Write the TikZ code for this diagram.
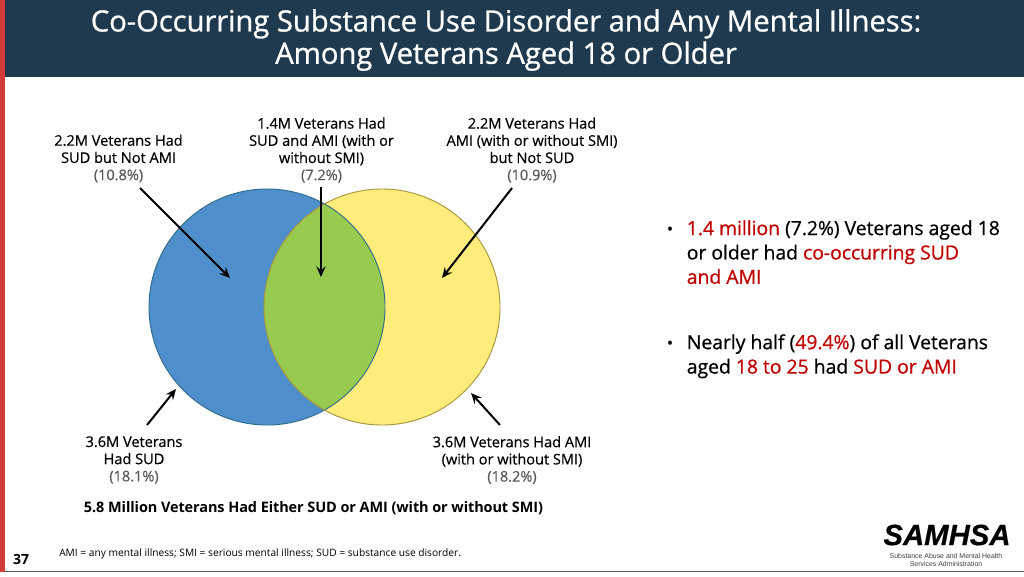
\documentclass[tikz,border=0pt]{standalone}
\usepackage{fontspec}
\setmainfont{Open Sans}
\newfontfamily\logofont{Liberation Sans}
\definecolor{headblue}{HTML}{1F3A4F}
\definecolor{barred}{HTML}{D13A36}
\definecolor{sudblue}{HTML}{4F8FCB}
\definecolor{sudline}{HTML}{2F6C8C}
\definecolor{amiyellow}{HTML}{FFEC7A}
\definecolor{amiline}{HTML}{A8963C}
\definecolor{bothgreen}{HTML}{98CA50}
\definecolor{notered}{HTML}{C00000}
\definecolor{pctgray}{HTML}{595959}
\tikzset{
  callout/.style={align=center, font=\fontsize{11}{12.9}\selectfont\addfontfeatures{LetterSpace=-0.5, FakeBold=0.4}, text=black, inner sep=0pt},
  pointer/.style={line width=1.5pt, -{Stealth[length=8pt, width=7pt, inset=3pt]}},
  bullettext/.style={align=left, anchor=north west, font=\fontsize{14.6}{18.3}\selectfont\addfontfeatures{LetterSpace=-0.4, FakeBold=0.6}, inner sep=0pt},
}
\usetikzlibrary{arrows.meta}
\newcommand{\pct}[1]{{\color{pctgray}#1}}
\newcommand{\hot}[1]{{\color{notered}#1}}
\begin{document}
\begin{tikzpicture}[x=0.75pt, y=-0.75pt]
  \useasboundingbox (0,0) rectangle (1024,576);
  \fill[white] (0,0) rectangle (1024,576);

  % header and edges
  \fill[headblue] (0,0) rectangle (1024,77);
  \fill[barred] (0,0) rectangle (5,572);
  \draw[black!65, line width=1pt] (5,571.5) -- (1024,571.5);
  \node[align=center, text=white, inner sep=0pt, font=\fontsize{22}{24.2}\selectfont\addfontfeatures{LetterSpace=-0.4, FakeBold=0.8}] (title) at (506,40)
    {Co-Occurring Substance Use Disorder and Any Mental Illness:\\Among Veterans Aged 18 or Older};

  % venn circles
  \fill[sudblue] (267,307) circle [radius=118];
  \fill[amiyellow] (382,307) circle [radius=118];
  \begin{scope}
    \clip (267,307) circle [radius=118];
    \fill[bothgreen] (382,307) circle [radius=118];
  \end{scope}
  \draw[sudline, line width=0.7pt] (267,307) circle [radius=118];
  \draw[amiline, line width=0.7pt] (382,307) circle [radius=118];

  % callouts
  \node[callout] (sudonly) at (118.5,158.5) {2.2M Veterans Had\\SUD but Not AMI\\\pct{(10.8\%)}};
  \node[callout] (both) at (321.5,150) {1.4M Veterans Had\\SUD and AMI (with or\\without SMI)\\\pct{(7.2\%)}};
  \node[callout] (amionly) at (532,150) {2.2M Veterans Had\\AMI (with or without SMI)\\but Not SUD\\\pct{(10.9\%)}};
  \node[callout] (sudall) at (134,460) {3.6M Veterans\\Had SUD\\\pct{(18.1\%)}};
  \node[callout] (amiall) at (512,460) {3.6M Veterans Had AMI\\(with or without SMI)\\\pct{(18.2\%)}};
  \node[inner sep=0pt, font=\fontsize{10.85}{12}\selectfont\bfseries\addfontfeatures{LetterSpace=-0.6}] (total) at (313.5,508.5)
    {5.8 Million Veterans Had Either SUD or AMI (with or without SMI)};

  % arrows
  \coordinate (sudonlyin) at (230,278);
  \coordinate (bothin) at (321,277);
  \coordinate (amionlyin) at (442,278);
  \coordinate (sudallin) at (176,389);
  \coordinate (amiallin) at (471,393);
  \coordinate (sudonlyout) at (140,188);
  \coordinate (bothout) at (321,187);
  \coordinate (amionlyout) at (512,188);
  \coordinate (sudallout) at (147,425);
  \coordinate (amiallout) at (500,425);
  \foreach \name in {sudonly, both, amionly, sudall, amiall} {
    \draw[pointer] (\name out) -- (\name in);
  }

  % right column
  \node[bullettext] (first) at (686.5,220)
    {\hot{1.4 million} (7.2\%) Veterans aged 18\\or older had \hot{co-occurring SUD}\\\hot{and AMI}};
  \node[bullettext] (second) at (686.5,334)
    {Nearly half (\hot{49.4\%}) of all Veterans\\aged \hot{18 to 25} had \hot{SUD or AMI}};
  \node[inner sep=0pt, font=\fontsize{13}{14}\selectfont] (firstdot) at (670,231) {•};
  \node[inner sep=0pt, font=\fontsize{13}{14}\selectfont] (seconddot) at (670,345) {•};

  % footer
  \node[inner sep=0pt, font=\fontsize{10.5}{12}\selectfont\bfseries] (pagenum) at (21,559) {37};
  \node[inner sep=0pt, anchor=west, font=\fontsize{7.65}{9}\selectfont] (footnote) at (59,553.5)
    {AMI = any mental illness; SMI = serious mental illness; SUD = substance use disorder.};
  \node[inner sep=0pt, font=\logofont\fontsize{22}{22}\selectfont\bfseries\itshape\addfontfeatures{FakeBold=0.5}] (logo) at (947,535) {SAMHSA};
  \node[inner sep=0pt, align=center, text=black!75, font=\logofont\fontsize{5.2}{6.4}\selectfont] (logosub) at (946,560)
    {Substance Abuse and Mental Health\\Services Administration};
\end{tikzpicture}
\end{document}
